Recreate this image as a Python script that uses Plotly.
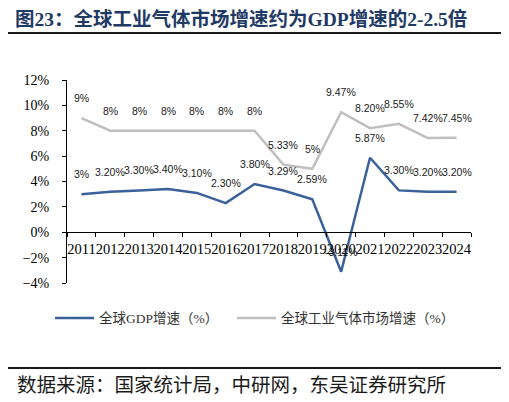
import plotly.graph_objects as go

# values
years = ["2011", "2012", "2013", "2014", "2015", "2016", "2017",
         "2018", "2019", "2020", "2021", "2022", "2023", "2024"]
gdp = [3.0, 3.2, 3.3, 3.4, 3.1, 2.3, 3.8, 3.29, 2.59, -3.11, 5.87, 3.3, 3.2, 3.2]
gdp_labels = ["3%", "3.20%", "3.30%", "3.40%", "3.10%", "2.30%", "3.80%",
              "3.29%", "2.59%", "-3.11%", "5.87%", "3.30%", "3.20%", "3.20%"]
gas = [9, 8, 8, 8, 8, 8, 8, 5.33, 5, 9.47, 8.2, 8.55, 7.42, 7.45]
gas_labels = ["9%", "8%", "8%", "8%", "8%", "8%", "8%",
              "5.33%", "5%", "9.47%", "8.20%", "8.55%", "7.42%", "7.45%"]
series_names = ["全球GDP增速（%）", "全球工业气体市场增速（%）"]

# page body adds an 8px margin, so the figure is drawn 8px smaller / shifted
OFF = 8
W, H = 509 - OFF, 402 - OFF
L, R, T, B = 67 - OFF, 38, 80 - OFF, 119
pw, ph = W - L - R, H - T - B


def px_x(x):
    return (x - OFF - L) / pw


def px_y(y):
    return (H - B - (y - OFF)) / ph


serif = "Liberation Serif, Noto Sans CJK SC"
blue = "#3A6199"
grey = "#BFBFBF"

fig = go.Figure()
fig.add_trace(go.Scatter(x=years, y=gdp, mode="lines", name=series_names[0],
                         line=dict(color=blue, width=2.5), showlegend=False))
fig.add_trace(go.Scatter(x=years, y=gas, mode="lines", name=series_names[1],
                         line=dict(color=grey, width=2.5), showlegend=False))

# data labels above each point (category index as x)
for ys, labs in [(gdp, gdp_labels), (gas, gas_labels)]:
    for i, (y, t) in enumerate(zip(ys, labs)):
        fig.add_annotation(x=i, y=y, text=t, showarrow=False, yshift=20,
                           font=dict(family="Liberation Sans", size=10.5, color="#1a1a1a"))

# legend drawn by hand so the line samples are as long as in the original
for (x0, name, col) in [(55, series_names[0], blue), (237, series_names[1], grey)]:
    fig.add_shape(type="line", xref="paper", yref="paper",
                  x0=px_x(x0), x1=px_x(x0 + 39), y0=px_y(318), y1=px_y(318),
                  line=dict(color=col, width=2.5))
    fig.add_annotation(xref="paper", yref="paper", x=px_x(x0 + 42), y=px_y(318),
                       xanchor="left", yanchor="middle", showarrow=False, text=name,
                       font=dict(family=serif, size=13.5, color="#333333"))

# header / footer rules and source text
fig.add_shape(type="line", xref="paper", yref="paper",
              x0=px_x(8), x1=px_x(503), y0=px_y(33), y1=px_y(33),
              line=dict(color="#1a1a1a", width=2))
fig.add_shape(type="line", xref="paper", yref="paper",
              x0=px_x(8), x1=px_x(503), y0=px_y(368), y1=px_y(368),
              line=dict(color="#1a1a1a", width=2))
fig.add_annotation(xref="paper", yref="paper", x=px_x(15), y=px_y(385),
                   xanchor="left", yanchor="middle", showarrow=False,
                   text="数据来源：国家统计局，中研网，东吴证券研究所",
                   font=dict(family=serif, size=19.5, color="#1a1a1a"))

fig.update_layout(
    width=W, height=H,
    margin=dict(l=L, r=R, t=T, b=B, autoexpand=False),
    paper_bgcolor="white", plot_bgcolor="white",
    title=dict(text="图23：全球工业气体市场增速约为GDP增速的2-2.5倍",
               xref="container", yref="container", x=(15 - OFF) / W, xanchor="left",
               y=1 - (19 - OFF) / H, yanchor="middle",
               font=dict(family=serif, size=19.5, color="#1F3A64", weight="bold")),
    xaxis=dict(type="category", range=[-0.5, 13.5], anchor="free", position=0.25,
               tickmode="linear", dtick=1, tickangle=0,
               showline=True, linecolor="black", linewidth=1,
               ticks="outside", ticklen=4, tickcolor="black", tickson="boundaries",
               ticklabelstandoff=3,
               showgrid=False, tickfont=dict(family=serif, size=14.5, color="black")),
    yaxis=dict(range=[-4, 12], dtick=2, ticksuffix="%",
               showline=True, linecolor="black", linewidth=1,
               ticks="outside", ticklen=4, tickcolor="black", ticklabelstandoff=10,
               showgrid=False, zeroline=False,
               tickfont=dict(family=serif, size=14, color="black")),
)

fig.write_html("out.html")
